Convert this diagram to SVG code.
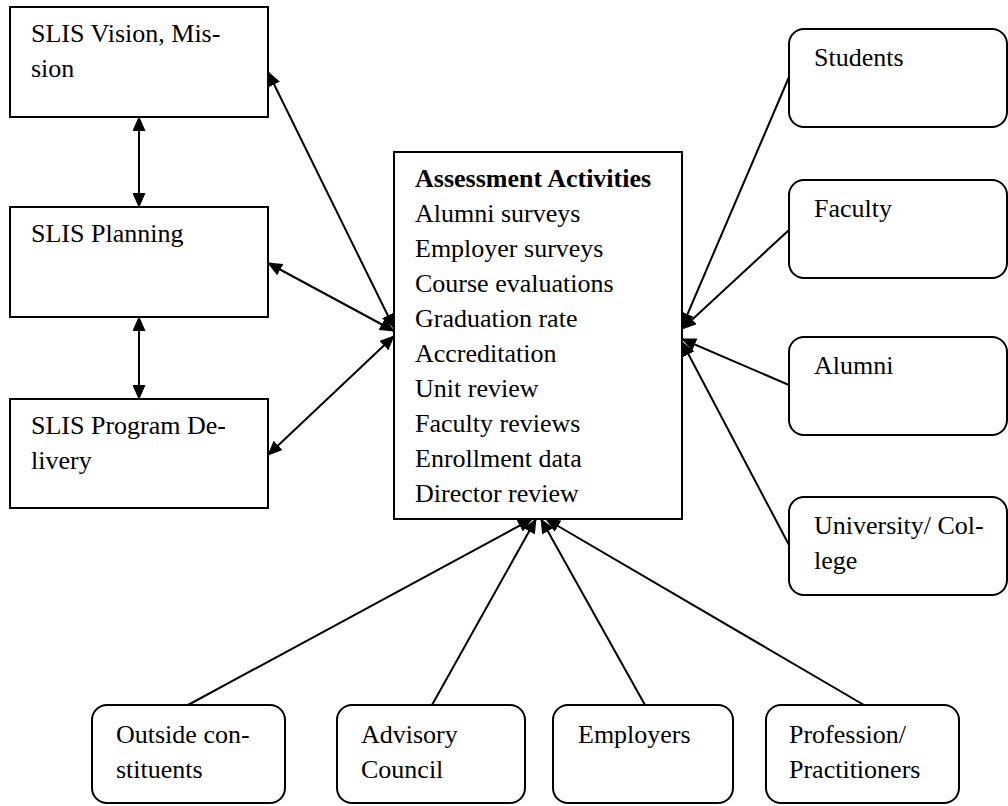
<svg xmlns="http://www.w3.org/2000/svg" width="1008" height="806" viewBox="0 0 1008 806">
  <style>
    .box { fill: #fff; stroke: #000; stroke-width: 2; }
    .lbl { font-family: "Liberation Serif", "Times New Roman", serif; font-size: 26px; fill: #000; }
    .ttl { font-weight: bold; }
    .conn line { stroke: #000; stroke-width: 2; fill: none; }
  </style>
  <defs>
    <marker id="head" viewBox="0 0 15 13" refX="14" refY="6.5" markerWidth="15" markerHeight="13" markerUnits="userSpaceOnUse" orient="auto-start-reverse">
      <path d="M0,0 L15,6.5 L0,13 z" fill="#000"/>
    </marker>
  </defs>

  <rect width="1008" height="806" fill="#fff"/>

  <!-- connectors -->
  <g id="connectors" class="conn">
    <!-- left column, two-way -->
    <line x1="139" y1="117" x2="139" y2="207" marker-start="url(#head)" marker-end="url(#head)"/>
    <line x1="139" y1="317" x2="139" y2="399" marker-start="url(#head)" marker-end="url(#head)"/>
    <line x1="268" y1="72" x2="394" y2="328" marker-start="url(#head)" marker-end="url(#head)"/>
    <line x1="268" y1="263" x2="394" y2="331" marker-start="url(#head)" marker-end="url(#head)"/>
    <line x1="268" y1="455" x2="394" y2="336" marker-start="url(#head)" marker-end="url(#head)"/>
    <!-- right column, into the activities box -->
    <line x1="789" y1="77" x2="682" y2="327" marker-end="url(#head)"/>
    <line x1="789" y1="230" x2="682" y2="329" marker-end="url(#head)"/>
    <line x1="789" y1="385" x2="682" y2="339" marker-end="url(#head)"/>
    <line x1="789" y1="545" x2="682" y2="342" marker-end="url(#head)"/>
    <!-- bottom row, into the activities box -->
    <line x1="188" y1="705" x2="532" y2="519" marker-end="url(#head)"/>
    <line x1="432" y1="705" x2="536" y2="519" marker-end="url(#head)"/>
    <line x1="645" y1="705" x2="541" y2="519" marker-end="url(#head)"/>
    <line x1="864" y1="705" x2="546" y2="519" marker-end="url(#head)"/>
  </g>

  <!-- left column -->
  <g id="vision">
    <rect class="box" x="10" y="7" width="258" height="110"/>
    <text class="lbl" x="31" y="42">SLIS Vision, Mis-</text>
    <text class="lbl" x="31" y="77">sion</text>
  </g>
  <g id="planning">
    <rect class="box" x="10" y="207" width="258" height="110"/>
    <text class="lbl" x="31" y="242">SLIS Planning</text>
  </g>
  <g id="delivery">
    <rect class="box" x="10" y="399" width="258" height="109"/>
    <text class="lbl" x="31" y="434">SLIS Program De-</text>
    <text class="lbl" x="31" y="469">livery</text>
  </g>

  <!-- centre -->
  <g id="activities">
    <rect class="box" x="394" y="152" width="288" height="367"/>
    <text class="lbl ttl" x="415" y="187">Assessment Activities</text>
    <text class="lbl" x="415" y="222">Alumni surveys</text>
    <text class="lbl" x="415" y="257">Employer surveys</text>
    <text class="lbl" x="415" y="292">Course evaluations</text>
    <text class="lbl" x="415" y="327">Graduation rate</text>
    <text class="lbl" x="415" y="362">Accreditation</text>
    <text class="lbl" x="415" y="397">Unit review</text>
    <text class="lbl" x="415" y="432">Faculty reviews</text>
    <text class="lbl" x="415" y="467">Enrollment data</text>
    <text class="lbl" x="415" y="502">Director review</text>
  </g>

  <!-- right column -->
  <g id="students">
    <rect class="box" x="789" y="29" width="218" height="98" rx="15"/>
    <text class="lbl" x="814" y="66">Students</text>
  </g>
  <g id="faculty">
    <rect class="box" x="789" y="180" width="218" height="98" rx="15"/>
    <text class="lbl" x="814" y="217">Faculty</text>
  </g>
  <g id="alumni">
    <rect class="box" x="789" y="337" width="218" height="98" rx="15"/>
    <text class="lbl" x="814" y="374">Alumni</text>
  </g>
  <g id="university">
    <rect class="box" x="789" y="497" width="218" height="98" rx="15"/>
    <text class="lbl" x="814" y="534">University/ Col-</text>
    <text class="lbl" x="814" y="569">lege</text>
  </g>

  <!-- bottom row -->
  <g id="outside">
    <rect class="box" x="92" y="705" width="193" height="98" rx="15"/>
    <text class="lbl" x="116" y="743">Outside con-</text>
    <text class="lbl" x="116" y="778">stituents</text>
  </g>
  <g id="advisory">
    <rect class="box" x="337" y="705" width="188" height="98" rx="15"/>
    <text class="lbl" x="361" y="743">Advisory</text>
    <text class="lbl" x="361" y="778">Council</text>
  </g>
  <g id="employers">
    <rect class="box" x="553" y="705" width="180" height="98" rx="15"/>
    <text class="lbl" x="578" y="743">Employers</text>
  </g>
  <g id="profession">
    <rect class="box" x="766" y="705" width="193" height="98" rx="15"/>
    <text class="lbl" x="789" y="743">Profession/</text>
    <text class="lbl" x="789" y="778">Practitioners</text>
  </g>
</svg>
